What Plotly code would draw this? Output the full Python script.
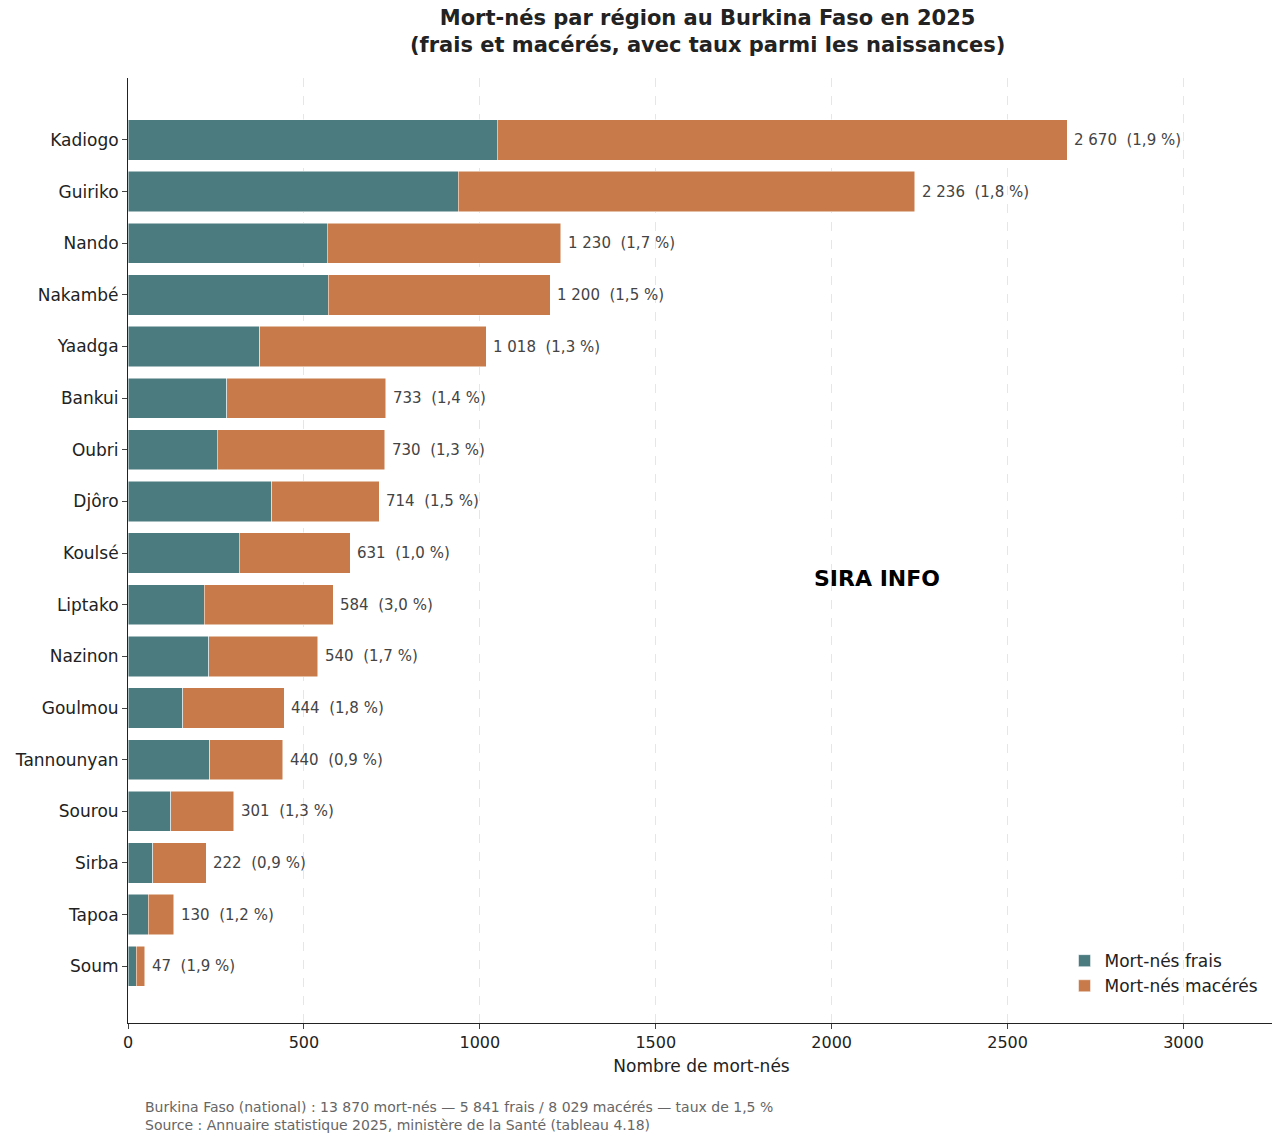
import plotly.graph_objects as go
import pandas as pd


class Visualizer:
    def __init__(self):
        self.colors = {"frais": "#4b7b7f", "maceres": "#c87a4a"}

    def create_stillbirth_chart(self, df):
        """
        Barres horizontales empilées des mort-nés par région (frais + macérés).
        Sauvegarde en HTML.
        """
        # Ordre du plus grand au plus petit, de haut en bas
        df = df.sort_values('Total', ascending=True)
        df['Maceres'] = df['Total'] - df['Frais']

        fig = go.Figure()
        fig.add_trace(go.Bar(
            y=df['Region'], x=df['Frais'], orientation='h',
            name='Mort-nés frais', marker_color=self.colors['frais'], width=0.78
        ))
        fig.add_trace(go.Bar(
            y=df['Region'], x=df['Maceres'], orientation='h',
            name='Mort-nés macérés', marker_color=self.colors['maceres'], width=0.78
        ))

        # Étiquettes total + taux
        for _, r in df.iterrows():
            label = f"{r['Total']:,}".replace(",", " ") + f"  ({r['Taux']} %)"
            fig.add_annotation(x=r['Total'], y=r['Region'], text=label, showarrow=False,
                               xanchor='left', xshift=5, font=dict(size=15, color='#444'))

        # Logo (texte)
        fig.add_annotation(x=0.71, y=0.47, xref='paper', yref='paper', text="<b>SIRA INFO</b>",
                           showarrow=False, font=dict(size=22, color='black'))

        # Notes de bas de page
        fig.add_annotation(x=0.013, y=-0.078, xref='paper', yref='paper', xanchor='left', yanchor='top',
                           align='left', showarrow=False, font=dict(size=14, color='#666'),
                           text="Burkina Faso (national) : 13 870 mort-nés — 5 841 frais / 8 029 macérés — taux de 1,5 %"
                                "<br>Source : Annuaire statistique 2025, ministère de la Santé (tableau 4.18)")

        fig.update_layout(
            barmode='stack',
            template='simple_white',
            font=dict(family='DejaVu Sans', size=16, color='#222'),
            title=dict(text="<b>Mort-nés par région au Burkina Faso en 2025<br>(frais et macérés, avec taux parmi les naissances)</b>",
                       x=0.55, xanchor='center', y=0.985, font=dict(size=21)),
            margin=dict(l=120, r=5, t=70, b=125),
            width=1272, height=1140,
            legend=dict(x=0.99, y=0.02, xanchor='right', yanchor='bottom', bgcolor='rgba(0,0,0,0)',
                        traceorder='normal', font=dict(size=17)),
            bargap=0.2,
        )
        fig.update_xaxes(range=[0, 3260], tickvals=[0, 500, 1000, 1500, 2000, 2500, 3000],
                         title_text="Nombre de mort-nés", title_font_size=17, title_standoff=8,
                         showgrid=True, griddash='dash', automargin=False,
                         gridcolor='#e6e6e6', ticks='outside', showline=True, linecolor='#222')
        fig.update_yaxes(range=[-1.1, 17.2], ticks='outside', showline=True, linecolor='#222',
                         automargin=False, tickfont_size=17)

        fig.write_html("out.html")


data = pd.DataFrame({
    'Region': ['Kadiogo', 'Guiriko', 'Nando', 'Nakambé', 'Yaadga', 'Bankui', 'Oubri', 'Djôro',
               'Koulsé', 'Liptako', 'Nazinon', 'Goulmou', 'Tannounyan', 'Sourou', 'Sirba', 'Tapoa', 'Soum'],
    'Total': [2670, 2236, 1230, 1200, 1018, 733, 730, 714, 631, 584, 540, 444, 440, 301, 222, 130, 47],
    'Frais': [1049, 938, 566, 569, 375, 281, 253, 409, 316, 216, 230, 156, 233, 122, 71, 57, 23],
    'Taux': ['1,9', '1,8', '1,7', '1,5', '1,3', '1,4', '1,3', '1,5', '1,0', '3,0', '1,7', '1,8', '0,9',
             '1,3', '0,9', '1,2', '1,9'],
})

Visualizer().create_stillbirth_chart(data)
